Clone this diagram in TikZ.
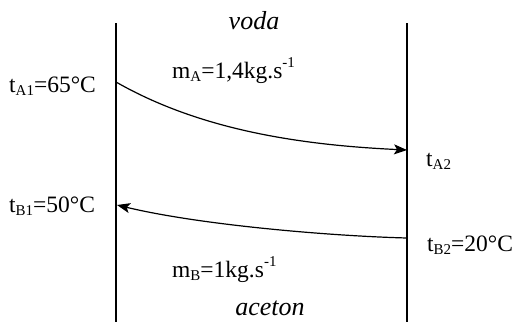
\documentclass[tikz,border=0pt]{standalone}
\usepackage{fontspec}
\setmainfont{Liberation Serif}
\usetikzlibrary{arrows.meta}
\newcommand{\subtxt}[1]{\raisebox{-3.5pt}{\fontsize{15}{15}\selectfont #1}}
\newcommand{\suptxt}[1]{\raisebox{11pt}{\fontsize{15}{15}\selectfont #1}}

\begin{document}
\begin{tikzpicture}[x=1pt,y=-1pt,
  lbl/.style={inner sep=0pt,anchor=base west,font=\fontsize{23.5}{26}\selectfont},
  medium/.style={inner sep=0pt,anchor=base,font=\fontsize{26}{30}\selectfont\itshape},
  wall/.style={line width=1.4pt},
  flow/.style={line width=1.2pt,-{Stealth[length=13pt,width=10pt,inset=3pt]}}]
  \useasboundingbox (0,0) rectangle (517,322);
  % walls
  \coordinate (lt) at (116,23);
  \coordinate (lb) at (116,322);
  \coordinate (rt) at (407,23);
  \coordinate (rb) at (407,322);
  \draw[wall] (lt) -- (lb);
  \draw[wall] (rt) -- (rb);
  % water, A
  \coordinate (a1) at (116,82);
  \coordinate (a2) at (407,150);
  \draw[flow] (a1) .. controls (200,130) and (300,145) .. (a2);
  \node[medium] (voda) at (254,29) {voda};
  \node[lbl] (mA) at (172,78) {m\subtxt{A}=1,4kg.s\suptxt{-1}};
  \node[lbl] (tA1) at (9,92) {t\subtxt{A1}=65°C};
  \node[lbl] (tA2) at (426,166) {t\subtxt{A2}};
  % acetone, B
  \coordinate (b2) at (407,238);
  \coordinate (b1) at (117,205);
  \draw[flow] (b2) .. controls (330,236) and (200,225) .. (b1);
  \node[lbl] (tB1) at (9,212) {t\subtxt{B1}=50°C};
  \node[lbl] (tB2) at (427,251) {t\subtxt{B2}=20°C};
  \node[lbl] (mB) at (172,277) {m\subtxt{B}=1kg.s\suptxt{-1}};
  \node[medium] (aceton) at (270,315) {aceton};
\end{tikzpicture}
\end{document}
